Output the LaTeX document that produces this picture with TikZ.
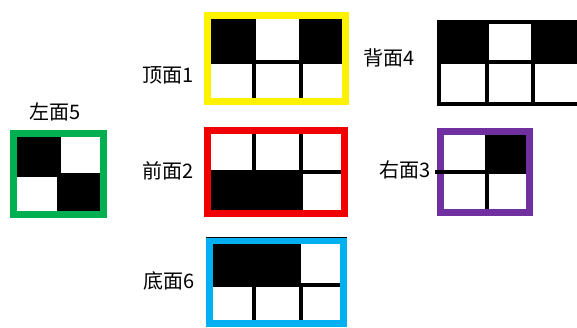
\documentclass[tikz,border=0pt]{standalone}
\usepackage{fontspec}
\setmainfont{Noto Sans CJK SC}
\definecolor{topyellow}{RGB}{255,242,0}
\definecolor{frontred}{RGB}{240,0,0}
\definecolor{leftgreen}{RGB}{0,176,80}
\definecolor{rightpurple}{RGB}{112,48,160}
\definecolor{bottomblue}{RGB}{0,176,240}
\begin{document}
\begin{tikzpicture}[x=1pt,y=-1pt,
  frame/.style={line width=7pt},
  gridline/.style={line width=3.5pt},
  facelabel/.style={font=\fontsize{20}{20}\selectfont, inner sep=0pt}]

\useasboundingbox (0,0) rectangle (577,327);

%color

\fill[black] (211,19) rectangle (254,62);
\fill[black] (301,19) rectangle (342,62);

\fill[black] (441,22) rectangle (487,62);
\fill[black] (533,22) rectangle (577,62);

\fill[black] (17,137) rectangle (59,175);
\fill[black] (59,175) rectangle (100,211);

\fill[black] (211,172) rectangle (301,210);

\fill[black] (487,135) rectangle (526,172);

\fill[black] (213,244) rectangle (301,285);

% labels of faces

\node[facelabel] (top) at (168,75) {顶面1};
\node[facelabel] (back) at (389,58) {背面4};
\node[facelabel] (left) at (55,112) {左面5};
\node[facelabel] (front) at (168,171) {前面2};
\node[facelabel] (right) at (405,170) {右面3};
\node[facelabel] (bottom) at (169,281) {底面6};

%lines
    % top
\draw[gridline] (254,19) -- (254,98);
\draw[gridline] (301,19) -- (301,98);
\draw[gridline] (211,62) -- (342,62);
\draw[frame,topyellow] (207.5,15.5) rectangle (345.5,101.5);

    % back
\draw[gridline] (487,22) -- (487,102);
\draw[gridline] (533,22) -- (533,102);
\draw[gridline] (441,62) -- (577,62);
\draw[line width=4pt] (439,22) rectangle (579,104);

    % left
\draw[gridline] (59,137) -- (59,211);
\draw[gridline] (17,175) -- (100,175);
\draw[frame,leftgreen] (13.5,133.5) rectangle (103.5,214.5);

    % front
\draw[gridline] (254,134) -- (254,210);
\draw[gridline] (301,134) -- (301,210);
\draw[gridline] (211,172) -- (341,172);
\draw[frame,frontred] (207.5,130.5) rectangle (344.5,213.5);

    % right
\draw[frame,rightpurple] (440.5,131.5) rectangle (529.5,212.5);
\draw[gridline] (487,135) -- (487,209);
\draw[gridline] (435,172) -- (526,172);

    % bottom
\draw[gridline] (254,285) -- (254,320);
\draw[gridline] (301,285) -- (301,320);
\draw[gridline] (213,285) -- (340,285);
\draw[frame,bottomblue] (209.5,240.5) rectangle (343.5,323.5);
\draw[line width=1.5pt] (206,237.5) -- (347,237.5);

\end{tikzpicture}
\end{document}
